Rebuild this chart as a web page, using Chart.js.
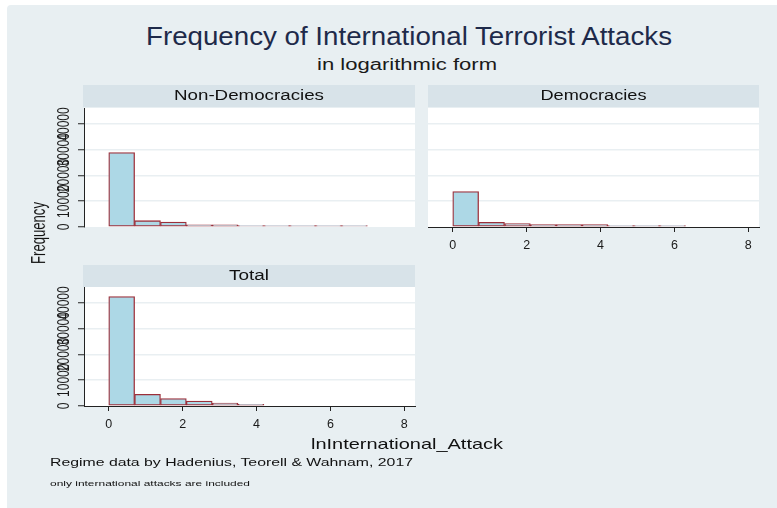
<!DOCTYPE html>
<html>
<head>
<meta charset="utf-8">
<script src="https://cdn.jsdelivr.net/npm/chart.js@4/dist/chart.umd.min.js"></script>
<style>
  html, body { margin: 0; padding: 0; background: #ffffff; }
  #page { position: relative; width: 777px; height: 508px; overflow: hidden;
          font-family: "Liberation Sans", Arial, sans-serif; }
  #bg { position: absolute; left: 7px; top: 5px; width: 770px; height: 503px;
        background: #e8eff2; border-radius: 4px 0 0 0; }
  .strip { position: absolute; background: #d8e3e9; }
  .txt { position: absolute; left: 0; top: 0; white-space: nowrap; line-height: 1;
         transform-origin: 0 0; }
  canvas { position: absolute; }
</style>
</head>
<body>
<div id="page">
  <div id="bg"></div>
  <div class="strip" style="left:83px;top:85px;width:332px;height:22px"></div>
  <div class="strip" style="left:428px;top:85px;width:331px;height:22px"></div>
  <div class="strip" style="left:83px;top:265px;width:332px;height:22px"></div>
  <canvas id="nonDem" width="420" height="134" style="left:0px;top:98px"></canvas>
  <canvas id="dem" width="345" height="159" style="left:420px;top:98px"></canvas>
  <canvas id="total" width="420" height="159" style="left:0px;top:277px"></canvas>
</div>
<script>
// Histogram bins of lnInternational_Attack (bin width 0.7), bin midpoints
const binMid = [0.35, 1.05, 1.75, 2.45, 3.15, 3.85, 4.55, 5.25, 5.95, 6.65];

// Frequencies per bin
const freqNonDemocracies = [28900, 2450, 1950, 850, 850, 550, 550, 550, 550, 550];
const freqDemocracies    = [13750, 1800, 1300, 900, 900, 900, 550, 550, 550, 0];
const freqTotal          = [42500, 4550, 2900, 1900, 1150, 650, 0, 0, 0, 0];

// Axis ticks
const xTicks = [0, 2, 4, 6, 8];
const yTicks = [0, 10000, 20000, 30000, 40000];

const FONT = '"Liberation Sans", Arial, sans-serif';
const Y_MAX = 46200, X_MIN = -0.67, X_MAX = 8.29;
const AXIS = '#222222';

// White plot region behind grid and bars
const plotBg = {
  id: 'plotBg',
  beforeDraw(chart) {
    const a = chart.chartArea, ctx = chart.ctx;
    ctx.save();
    ctx.fillStyle = '#ffffff';
    ctx.fillRect(a.left, a.top, a.right - a.left, a.bottom - a.top);
    ctx.restore();
  }
};

// Vertical (rotated) y tick labels, widened like the rest of the graph text
const rotatedYLabels = {
  id: 'rotatedYLabels',
  afterDraw(chart, args, opts) {
    if (!opts.show) return;
    const y = chart.scales.y, ctx = chart.ctx;
    ctx.save();
    ctx.font = '12px ' + FONT;
    ctx.fillStyle = '#1a1a1a';
    ctx.textAlign = 'center';
    ctx.textBaseline = 'alphabetic';
    y.ticks.forEach(t => {
      const py = y.getPixelForValue(t.value);
      ctx.save();
      ctx.translate(opts.x, py);
      ctx.scale(opts.stretch, 1);
      ctx.rotate(-Math.PI / 2);
      ctx.fillText(String(t.value), 0, 0);
      ctx.restore();
    });
    ctx.restore();
  }
};

function panelChart(id, values, opt) {
  return new Chart(document.getElementById(id), {
    type: 'bar',
    data: {
      datasets: [{
        data: binMid.map((x, i) => ({ x: x, y: values[i] })),
        backgroundColor: '#add8e6',
        borderColor: '#9c2f3a',
        borderWidth: 1.3,
        borderSkipped: false,
        barPercentage: 1,
        categoryPercentage: 1
      }]
    },
    options: {
      responsive: false,
      animation: false,
      events: [],
      layout: { padding: opt.padding },
      plugins: {
        legend: { display: false },
        tooltip: { enabled: false },
        title: { display: false },
        rotatedYLabels: { show: opt.showY, x: 68.5, stretch: 1.36 }
      },
      scales: {
        x: {
          type: 'linear',
          min: X_MIN, max: X_MAX,
          offset: false,
          display: opt.showX,
          afterBuildTicks: s => { s.ticks = xTicks.map(v => ({ value: v })); },
          afterFit: s => { if (opt.showX) s.height = 30; },
          grid: { display: true, offset: false, drawOnChartArea: false, drawTicks: true,
                  tickLength: 5, tickColor: AXIS, tickWidth: 1 },
          border: { display: true, color: AXIS, width: 1 },
          ticks: { font: { size: 12.5, family: FONT }, color: '#1a1a1a', padding: 6,
                   autoSkip: false, maxRotation: 0, minRotation: 0,
                   callback: v => String(v) }
        },
        y: {
          type: 'linear',
          min: 0, max: Y_MAX,
          afterBuildTicks: s => { s.ticks = yTicks.map(v => ({ value: v })); },
          afterFit: s => { s.width = opt.yWidth; },
          grid: {
            offset: false,
            color: c => (c.tick && c.tick.value === 0) ? 'rgba(0,0,0,0)' : '#e9eff2',
            lineWidth: 1.5,
            drawTicks: opt.showY, tickLength: 6, tickColor: AXIS, tickWidth: 1
          },
          border: { display: opt.showY, color: AXIS, width: 1 },
          ticks: { display: false, callback: v => String(v) }
        }
      }
    },
    plugins: [plotBg, rotatedYLabels]
  });
}

panelChart('nonDem', freqNonDemocracies,
  { showX: false, showY: true, yWidth: 84, padding: { top: 10, bottom: 5, left: 0, right: 5 } });
panelChart('dem', freqDemocracies,
  { showX: true, showY: false, yWidth: 0, padding: { top: 10, bottom: 0, left: 8, right: 6 } });
panelChart('total', freqTotal,
  { showX: true, showY: true, yWidth: 84, padding: { top: 10, bottom: 0, left: 0, right: 5 } });

// Graph text: titles, panel headers, axis titles and notes
const page = document.getElementById('page');
function placeText(o) {
  const el = document.createElement('div');
  el.className = 'txt';
  el.textContent = o.t;
  el.style.fontSize = o.fs + 'px';
  el.style.color = o.color || '#111111';
  page.appendChild(el);
  const nat = el.getBoundingClientRect().width;
  const s = o.w / nat;
  if (o.rot) {
    el.style.transform = 'translate(' + (o.xb - 0.8465 * o.fs) + 'px,' + o.y0 + 'px) rotate(-90deg) scaleX(' + s + ')';
  } else {
    const left = (o.cx !== undefined) ? o.cx - o.w / 2 : o.x;
    const top = o.base - 0.8465 * o.fs;
    el.style.transform = 'translate(' + left + 'px,' + top + 'px) scaleX(' + s + ')';
  }
}
[
  { t: 'Frequency of International Terrorist Attacks', cx: 409, w: 526, base: 45, fs: 25, color: '#1e2a4a' },
  { t: 'in logarithmic form', cx: 407, w: 180, base: 71, fs: 16, color: '#1a1a1a' },
  { t: 'Non-Democracies', cx: 249, w: 150, base: 100, fs: 14 },
  { t: 'Democracies', cx: 593.5, w: 106, base: 100, fs: 14 },
  { t: 'Total', cx: 249, w: 40, base: 280, fs: 14 },
  { t: 'lnInternational_Attack', x: 311, w: 192, base: 449, fs: 15 },
  { t: 'Regime data by Hadenius, Teorell & Wahnam, 2017', x: 50, w: 363, base: 467, fs: 11.5 },
  { t: 'only international attacks are included', x: 50, w: 200, base: 487, fs: 8 },
  { t: 'Frequency', rot: true, xb: 45, y0: 264, w: 62, fs: 20 }
].forEach(placeText);
</script>
</body>
</html>
